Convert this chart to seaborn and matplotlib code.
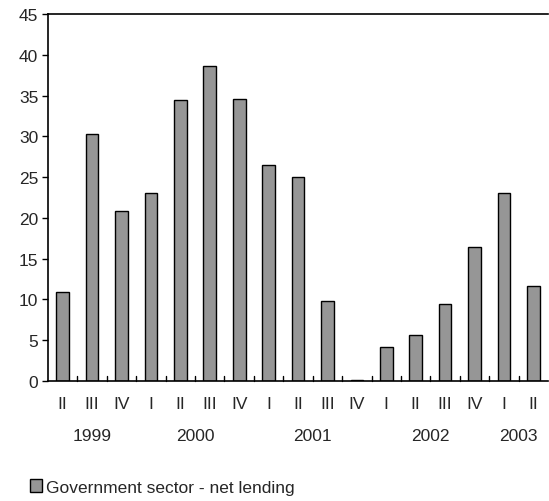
import matplotlib
matplotlib.use("Agg")
import matplotlib.pyplot as plt
import seaborn as sns
import pandas as pd
import numpy as np

quarters = ["II", "III", "IV", "I", "II", "III", "IV", "I", "II", "III", "IV",
            "I", "II", "III", "IV", "I", "II"]
years = ["1999"] * 3 + ["2000"] * 4 + ["2001"] * 4 + ["2002"] * 4 + ["2003"] * 2
values = [10.9, 30.3, 20.9, 23.1, 34.4, 38.6, 34.6, 26.5, 25.0, 9.8, 0.15,
          4.2, 5.6, 9.5, 16.4, 23.0, 11.7]
series_name = "Government sector - net lending"
year_labels = ["1999", "2000", "2001", "2002", "2003"]

df = pd.DataFrame({
    "period": [f"{y} {q}" for y, q in zip(years, quarters)],
    "value": values,
    "series": series_name,
})

sns.set_style("white")
plt.rcParams["font.family"] = ["Liberation Sans", "DejaVu Sans"]
FS = 12.5

fig = plt.figure(figsize=(5.49, 5.02), dpi=100)
ax = fig.add_axes([48 / 549, 1 - 382 / 502, 500 / 549, 367 / 502])

sns.barplot(data=df, x="period", y="value", hue="series", palette=["#969696"],
            width=0.43, edgecolor="black", linewidth=1.0, ax=ax, legend=True)

ax.set_xlim(-0.5, len(values) - 0.5)
ax.set_ylim(0, 45)
ax.set_yticks(np.arange(0, 46, 5))
ax.tick_params(axis="y", direction="out", length=4, width=1, color="black",
               labelsize=FS, pad=3, left=True)
ax.set_xticks(range(len(values)))
ax.set_xticklabels(quarters, fontsize=FS)
ax.tick_params(axis="x", length=0, pad=11, labelsize=FS)
for s in np.arange(0.5, len(values) - 0.5, 1.0):
    ax.plot([s, s], [0, 0.6], color="black", lw=1, clip_on=False)
ax.set_xlabel("")
ax.set_ylabel("")

for sp in ["left", "top", "bottom"]:
    ax.spines[sp].set_visible(True)
    ax.spines[sp].set_color("black")
    ax.spines[sp].set_linewidth(1.2)
ax.spines["right"].set_visible(False)

# year labels centred under their quarters
idx = 0
for yl in year_labels:
    n = years.count(yl)
    center = idx + (n - 1) / 2
    ax.text(center, -6.7, yl, ha="center", va="center", fontsize=FS)
    idx += n

leg = ax.legend(loc="center left", bbox_to_anchor=(-18 / 500, -106 / 367),
                frameon=False, fontsize=FS, handlelength=0.7, handleheight=0.7,
                handletextpad=0.2, borderaxespad=0, borderpad=0)

fig.savefig("out.png", dpi=100)
